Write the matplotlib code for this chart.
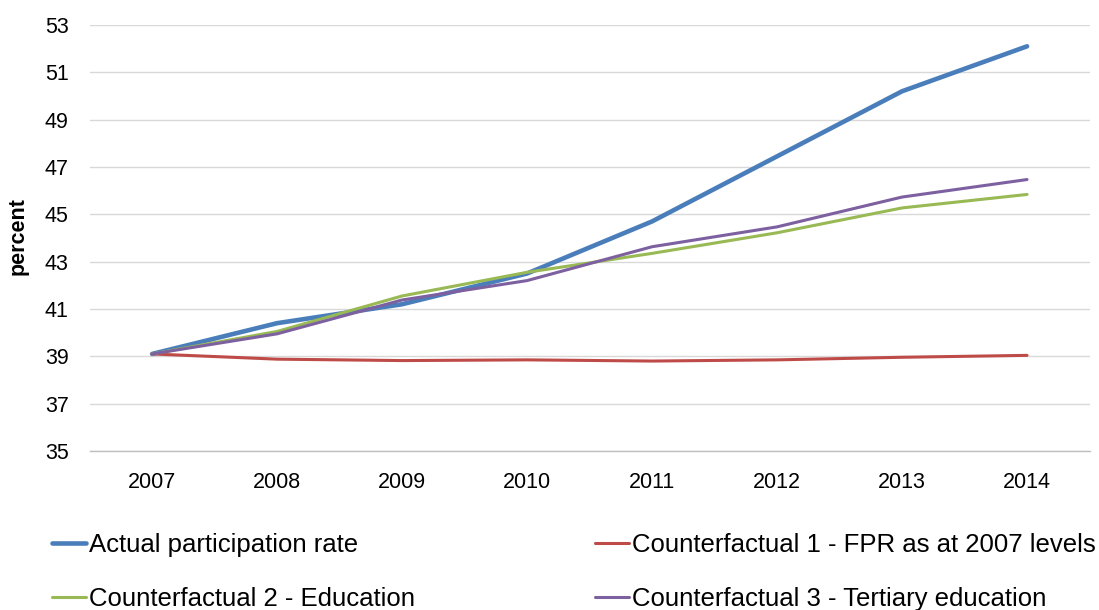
import matplotlib
matplotlib.use("Agg")
import matplotlib.pyplot as plt

years = ["2007", "2008", "2009", "2010", "2011", "2012", "2013", "2014"]
actual = [39.1, 40.4, 41.2, 42.5, 44.7, 47.45, 50.2, 52.1]
cf1_fpr2007 = [39.1, 38.88, 38.82, 38.85, 38.8, 38.85, 38.96, 39.04]
cf2_education = [39.1, 40.05, 41.55, 42.55, 43.35, 44.22, 45.27, 45.84]
cf3_tertiary = [39.1, 39.95, 41.38, 42.2, 43.63, 44.47, 45.73, 46.47]

labels = [
    "Actual participation rate",
    "Counterfactual 1 - FPR as at 2007 levels",
    "Counterfactual 2 - Education",
    "Counterfactual 3 - Tertiary education",
]
colors = ["#4A7EBB", "#BE4B48", "#98B954", "#7D60A0"]
widths = [3.3, 2.2, 2.2, 2.2]
y_ticks = list(range(35, 54, 2))

plt.rcParams["font.family"] = ["Liberation Sans", "DejaVu Sans"]

fig = plt.figure(figsize=(10.99, 6.10), dpi=100)
ax = fig.add_axes([0.0815, 0.2607, 0.9099, 0.6983])

x = list(range(len(years)))
series = [actual, cf1_fpr2007, cf2_education, cf3_tertiary]
handles = []
for vals, lab, col, lw in zip(series, labels, colors, widths):
    h, = ax.plot(x, vals, color=col, lw=lw, label=lab,
                 solid_capstyle="round", solid_joinstyle="round")
    handles.append(h)

ax.set_xlim(-0.5, len(years) - 0.5)
ax.set_ylim(35, 53)
ax.set_xticks(x)
ax.set_xticklabels(years)
ax.set_yticks(y_ticks)
ax.tick_params(axis="both", length=0, labelsize=15.5, colors="#000000")
ax.tick_params(axis="y", pad=15)
ax.tick_params(axis="x", pad=15)
ax.grid(axis="y", color="#D9D9D9", lw=1.0)
ax.set_axisbelow(True)
for side in ["top", "right", "left"]:
    ax.spines[side].set_visible(False)
ax.spines["bottom"].set_color("#BFBFBF")
ax.spines["bottom"].set_linewidth(1.0)

fig.text(0.0165, 0.6131, "percent", rotation=90, fontsize=15.5, fontweight="bold",
         ha="center", va="center")

order = [0, 2, 1, 3]
leg = fig.legend([handles[i] for i in order], [labels[i] for i in order],
                 ncol=2, loc="upper left", bbox_to_anchor=(0.047, 0.127),
                 frameon=False, fontsize=18.5, handlelength=1.35,
                 handletextpad=0.1, columnspacing=7.0, labelspacing=1.2,
                 borderpad=0, borderaxespad=0)

fig.savefig("out.png", dpi=100)
